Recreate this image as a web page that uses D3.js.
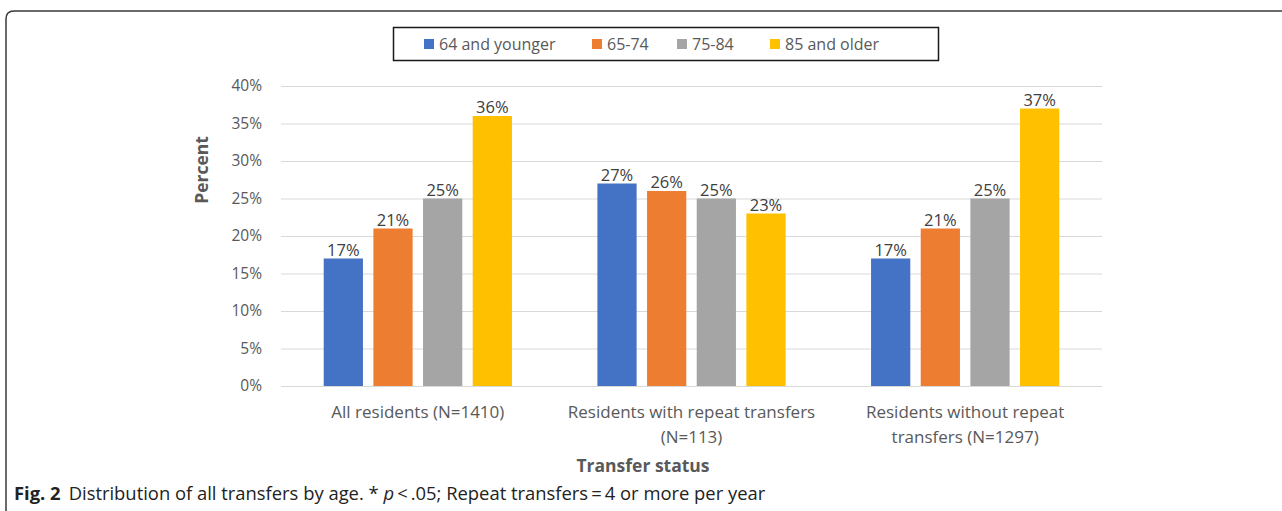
<html lang="en">
<head>
  <meta charset="UTF-8"/>
  <title>Distribution of all transfers by age</title>
  <script src="https://d3js.org/d3.v7.min.js"></script>
  <style>
    body { margin: 0; background: #fff; }
    svg { display: block; }
    text { font-family: 'Open Sans', sans-serif; }
    .grid line { stroke: #D9D9D9; stroke-width: 1; }
    .grid path { stroke-width: 0; }
    .grid text { font-size: 15.5px; fill: #595959; }
    text.value { font-size: 16.5px; fill: #404040; }
    text.cat { font-size: 17px; fill: #595959; }
    text.legend { font-size: 16px; fill: #595959; }
    text.title { font-size: 17.5px; font-weight: 700; fill: #595959; }
    text.caption { font-family: 'Open Sans', sans-serif; font-size: 18.4px; fill: #222; }
  </style>
</head>
<body>
<svg width="1282" height="511"></svg>
<script>
// categories, series and values
const categories = ['All residents (N=1410)', 'Residents with repeat transfers\n(N=113)', 'Residents without repeat\ntransfers (N=1297)']
const series = ['64 and younger', '65-74', '75-84', '85 and older']
const colors = ['#4472C4', '#ED7D31', '#A5A5A5', '#FFC000']
const young = [17, 27, 17]
const age6574 = [21, 26, 21]
const age7584 = [25, 25, 25]
const older = [36, 23, 37]
const yTicks = [0, 5, 10, 15, 20, 25, 30, 35, 40]

const values = [young, age6574, age7584, older]

const svg = d3.select('svg')

// outer frame (top + left, rounded corner)
svg.append('path')
  .attr('d', 'M6,511 L6,19 Q6,11 14,11 L1282,11')
  .attr('fill', 'none')
  .attr('stroke', '#3a3a3a')
  .attr('stroke-width', 1.5)

const plotLeft = 281, plotRight = 1102, plotTop = 86, plotBottom = 386
const width = plotRight - plotLeft
const height = plotBottom - plotTop

const chart = svg.append('g').attr('transform', `translate(${plotLeft}, ${plotTop})`)

const x0 = d3.scaleBand().domain(categories).range([0, width]).padding(0)
const x1 = d3.scaleBand().domain(series).range([0, x0.bandwidth()])
  .paddingInner(0.21).paddingOuter(0.86)
const y = d3.scaleLinear().domain([0, 40]).range([height, 0])

chart.append('g')
  .attr('class', 'grid')
  .call(d3.axisLeft(y).tickValues(yTicks).tickSize(-width).tickPadding(19)
    .tickFormat(d => d + '%'))

const groups = chart.selectAll('g.cat')
  .data(categories)
  .enter()
  .append('g')
  .attr('class', 'cat')
  .attr('transform', d => `translate(${x0(d)}, 0)`)

groups.selectAll('rect')
  .data((d, i) => series.map((s, j) => ({ s, j, v: values[j][i] })))
  .enter()
  .append('rect')
  .attr('x', d => x1(d.s))
  .attr('y', d => y(d.v))
  .attr('width', x1.bandwidth())
  .attr('height', d => height - y(d.v))
  .attr('fill', d => colors[d.j])

groups.selectAll('text.value')
  .data((d, i) => series.map((s, j) => ({ s, j, v: values[j][i] })))
  .enter()
  .append('text')
  .attr('class', 'value')
  .attr('x', d => x1(d.s) + x1.bandwidth() / 2)
  .attr('y', d => y(d.v) - 3)
  .attr('text-anchor', 'middle')
  .text(d => d.v + '%')

// category labels
categories.forEach(c => {
  const t = chart.append('text')
    .attr('class', 'cat')
    .attr('text-anchor', 'middle')
    .attr('x', x0(c) + x0.bandwidth() / 2)
    .attr('y', height + 32)
  c.split('\n').forEach((line, k) => {
    t.append('tspan')
      .attr('x', x0(c) + x0.bandwidth() / 2)
      .attr('dy', k === 0 ? 0 : 24.5)
      .text(line)
  })
})

// axis titles
svg.append('text')
  .attr('class', 'title')
  .attr('transform', 'translate(208, 170) rotate(-90)')
  .attr('text-anchor', 'middle')
  .text('Percent')

svg.append('text')
  .attr('class', 'title')
  .attr('x', 643)
  .attr('y', 472)
  .attr('text-anchor', 'middle')
  .text('Transfer status')

// legend
svg.append('rect')
  .attr('x', 393.5).attr('y', 27.5)
  .attr('width', 545).attr('height', 33)
  .attr('fill', '#fff')
  .attr('stroke', '#1a1a1a')
  .attr('stroke-width', 1.5)

const legendX = [424, 592, 677, 770]
series.forEach((s, i) => {
  svg.append('rect')
    .attr('x', legendX[i]).attr('y', 39)
    .attr('width', 10).attr('height', 10)
    .attr('fill', colors[i])
  svg.append('text')
    .attr('class', 'legend')
    .attr('x', legendX[i] + 15)
    .attr('y', 49.5)
    .text(s)
})

// caption
const cap = svg.append('text')
  .attr('class', 'caption')
  .attr('x', 14)
  .attr('y', 500)
cap.append('tspan').attr('font-weight', 700).text('Fig. 2')
cap.append('tspan').attr('dx', 8).text('Distribution of all transfers by age. * ')
cap.append('tspan').attr('font-style', 'italic').text('p')
cap.append('tspan').text('\u2009<\u2009.05; Repeat transfers\u2009=\u20094 or more per year')
</script>
</body>
</html>
